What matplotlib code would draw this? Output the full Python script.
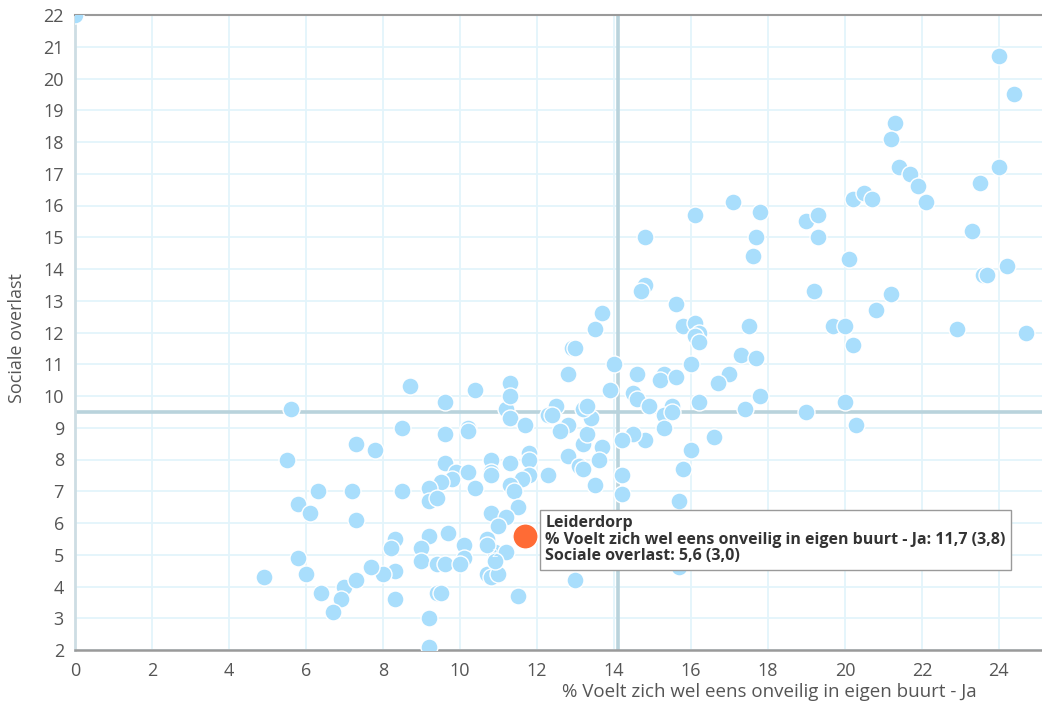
import matplotlib.pyplot as plt

plt.rcParams['font.family'] = ['Open Sans', 'DejaVu Sans']

# % voelt zich wel eens onveilig in eigen buurt (x) vs sociale overlast (y), per gemeente
onveilig = [
    24.0, 24.4, 21.3, 21.2, 21.4, 21.7, 21.9, 22.1, 24.0, 23.5, 23.3, 24.2, 23.6, 23.7,
    22.9, 24.7, 20.2, 20.5, 20.7, 20.1, 20.8, 21.2, 19.7, 20.0, 20.2, 20.0, 20.3, 19.0,
    19.3, 19.3, 19.2, 19.0,
    16.1, 17.1, 17.8, 17.7, 17.6, 14.8, 14.8, 14.7, 13.7, 13.5, 15.6, 15.8, 16.1, 16.2,
    16.1, 16.2, 17.5, 17.3, 17.7, 17.0, 16.7, 16.0, 14.0, 13.9, 14.6, 15.3, 15.2, 15.6,
    14.5, 14.6, 14.9, 15.5, 15.3, 15.5, 16.2, 17.8, 17.4, 12.8, 12.9, 13.0, 15.3, 16.6,
    16.0, 14.8, 14.5, 14.2, 13.7, 13.2, 13.3, 12.8, 13.4, 13.2, 13.3, 12.6, 15.8, 13.6,
    14.2, 14.2, 15.7, 17.1, 15.7, 13.5,
    9.6, 8.5, 9.6, 10.2, 10.2, 11.2, 11.3, 11.7, 12.5, 12.3, 12.4, 12.8, 13.1, 13.2,
    9.6, 9.9, 9.8, 9.5, 10.2, 9.2, 9.2, 9.4, 8.5, 10.4, 10.8, 10.8, 10.8, 11.3, 11.8,
    11.8, 11.8, 11.6, 12.3, 11.3, 11.4, 11.5, 10.8, 11.2, 11.0, 10.7, 10.9, 11.2, 10.7,
    10.8, 11.0, 10.7, 10.9, 9.2, 9.7, 8.3, 8.2, 9.0, 10.1, 10.1, 9.0, 9.4, 9.6, 10.0,
    8.3, 8.0, 9.4, 9.5, 8.3, 9.2, 9.2, 11.5, 13.0, 10.4, 11.3, 11.3, 8.7,
    5.6, 7.3, 7.8, 5.5, 6.3, 7.2, 5.8, 6.1, 7.3, 5.8, 6.0, 4.9, 6.4, 7.0, 7.3, 7.7,
    6.9, 6.7, 0.0,
]
overlast = [
    20.7, 19.5, 18.6, 18.1, 17.2, 17.0, 16.6, 16.1, 17.2, 16.7, 15.2, 14.1, 13.8, 13.8,
    12.1, 12.0, 16.2, 16.4, 16.2, 14.3, 12.7, 13.2, 12.2, 12.2, 11.6, 9.8, 9.1, 15.5,
    15.7, 15.0, 13.3, 9.5,
    15.7, 16.1, 15.8, 15.0, 14.4, 15.0, 13.5, 13.3, 12.6, 12.1, 12.9, 12.2, 12.3, 12.0,
    11.9, 11.7, 12.2, 11.3, 11.2, 10.7, 10.4, 11.0, 11.0, 10.2, 10.7, 10.7, 10.5, 10.6,
    10.1, 9.9, 9.7, 9.7, 9.4, 9.5, 9.8, 10.0, 9.6, 10.7, 11.5, 11.5, 9.0, 8.7,
    8.3, 8.6, 8.8, 8.6, 8.4, 8.5, 8.8, 9.1, 9.3, 9.6, 9.7, 8.9, 7.7, 8.0,
    7.5, 6.9, 6.7, 6.0, 4.6, 7.2,
    9.8, 9.0, 8.8, 9.0, 8.9, 9.6, 9.3, 9.1, 9.7, 9.4, 9.4, 8.1, 7.8, 7.7,
    7.9, 7.6, 7.4, 7.3, 7.6, 7.1, 6.7, 6.8, 7.0, 7.1, 8.0, 7.6, 7.5, 7.9, 8.2,
    8.0, 7.5, 7.4, 7.5, 7.2, 7.0, 6.5, 6.3, 6.2, 5.9, 5.5, 5.1, 5.1, 4.4,
    4.3, 4.4, 5.3, 4.8, 5.6, 5.7, 5.5, 5.2, 5.2, 5.3, 4.9, 4.8, 4.7, 4.7, 4.7,
    4.5, 4.4, 3.8, 3.8, 3.6, 3.0, 2.1, 3.7, 4.2, 10.2, 10.4, 10.0, 10.3,
    9.6, 8.5, 8.3, 8.0, 7.0, 7.0, 6.6, 6.3, 6.1, 4.9, 4.4, 4.3, 3.8, 4.0, 4.2, 4.6,
    3.6, 3.2, 22.0,
]

# geselecteerde gemeente met betrouwbaarheidsmarges
naam = 'Leiderdorp'
sel_x, sel_x_marge = 11.7, 3.8
sel_y, sel_y_marge = 5.6, 3.0

# gemiddelden (kruislijnen)
gem_x = 14.1
gem_y = 9.5

x_titel = '% Voelt zich wel eens onveilig in eigen buurt - Ja'
y_titel = 'Sociale overlast'


def nl(v):
    return f'{v:.1f}'.replace('.', ',')


fig = plt.figure(figsize=(10.42, 7.11), dpi=100)
ax = fig.add_axes([75 / 1042, 61 / 711, 967 / 1042, 635 / 711])

ax.set_xlim(0, 25.12)
ax.set_ylim(2, 22)
ax.set_xticks(range(0, 25, 2))
ax.set_yticks(range(2, 23))

ax.grid(True, color='#e3f4fb', linewidth=1.3, zorder=0)
ax.set_axisbelow(True)

ax.axvline(gem_x, color='#b9d3dc', linewidth=2.6, zorder=1)
ax.axhline(gem_y, color='#b9d3dc', linewidth=2.6, zorder=1)

ax.scatter(onveilig, overlast, s=150, color='#a9defc', edgecolors='white',
           linewidths=1.0, zorder=3)
ax.scatter([sel_x], [sel_y], s=330, color='#ff6b35', edgecolors='white',
           linewidths=1.0, zorder=4)

# twee gemeenten op dezelfde positie
ax.text(10.9, 5.0, '2', color='white', fontsize=8, ha='center', va='center', zorder=5)

ax.spines['right'].set_visible(False)
ax.spines['top'].set_color('#9a9a9a')
ax.spines['top'].set_linewidth(1.5)
ax.spines['bottom'].set_color('#9a9a9a')
ax.spines['bottom'].set_linewidth(1.8)
ax.spines['left'].set_color('#cddde3')
ax.spines['left'].set_linewidth(2.0)

ax.tick_params(length=0, labelsize=13, labelcolor='#555555')
ax.tick_params(axis='x', pad=9)
ax.tick_params(axis='y', pad=8)

fig.text(769 / 1042, 1 - 692 / 711, x_titel, ha='center', va='center',
         fontsize=13.5, color='#555555')
fig.text(17 / 1042, 1 - 338 / 711, y_titel, ha='center', va='center',
         rotation=90, fontsize=13, color='#555555')

tip = (f'{naam}\n'
       f'{x_titel}: {nl(sel_x)} ({nl(sel_x_marge)})\n'
       f'{y_titel}: {nl(sel_y)} ({nl(sel_y_marge)})')
ax.annotate(tip, xy=(sel_x, sel_y), xytext=(20, -4), textcoords='offset pixels',
            ha='left', va='center', fontsize=11.5, fontweight='bold', color='#333333',
            linespacing=1.05, zorder=6,
            bbox=dict(boxstyle='square,pad=0.35', fc='white', ec='#9a9a9a', lw=1.0))

fig.savefig('out.png', dpi=100)
